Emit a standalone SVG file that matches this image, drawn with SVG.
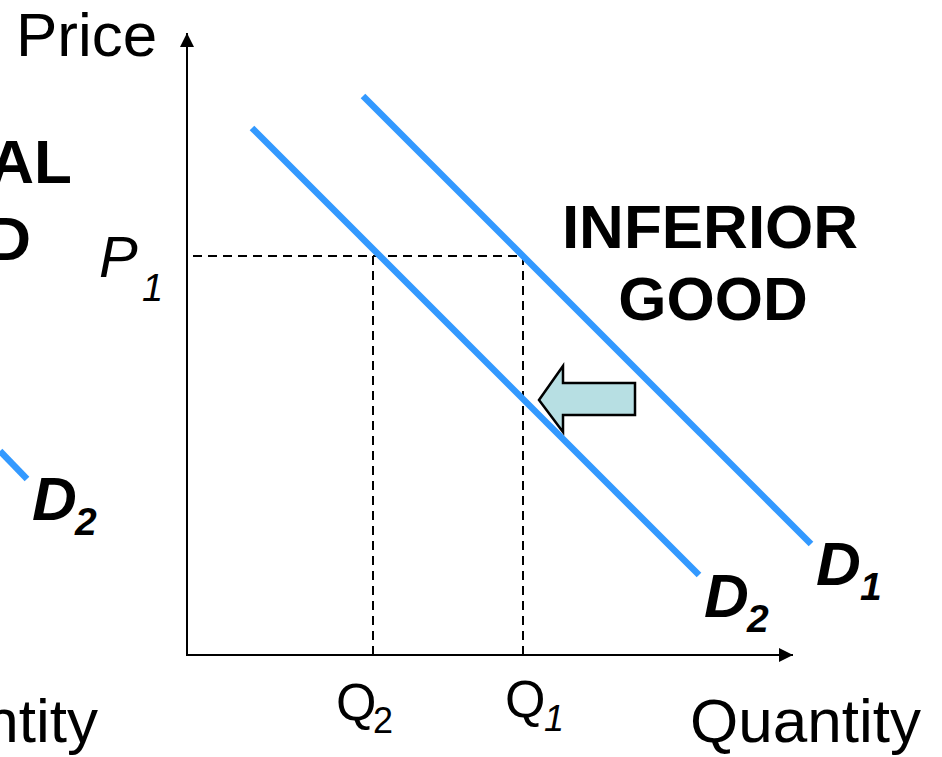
<svg xmlns="http://www.w3.org/2000/svg" width="942" height="757" viewBox="0 0 942 757">
<style>
text{font-family:"Liberation Sans",Arial,sans-serif;fill:#000}
.big{font-size:62px}
.b{font-weight:bold}
.i{font-style:italic}
.demand{stroke:#3399FF;stroke-width:6.5;fill:none}
.axis{stroke:#000;stroke-width:2;fill:none}
.dash{stroke:#000;stroke-width:2;stroke-dasharray:9 6;fill:none}
</style>
<defs>
<marker id="ah" viewBox="0 0 14 14" refX="14" refY="7" markerWidth="14" markerHeight="14" markerUnits="userSpaceOnUse" orient="auto">
<path d="M0,0 L14,7 L0,14 Z" fill="#000"/>
</marker>
</defs>
<rect width="942" height="757" fill="#fff"/>
<g id="connectors">
<line class="axis" x1="187" y1="656" x2="187" y2="33" marker-end="url(#ah)"/>
<line class="axis" x1="186" y1="655" x2="793" y2="655" marker-end="url(#ah)"/>
<path class="dash" d="M193,256 H523 V655"/>
<line class="dash" x1="373" y1="256" x2="373" y2="655"/>
<line class="demand" x1="0" y1="451" x2="27" y2="479"/>
<line class="demand" x1="252" y1="128" x2="699" y2="575"/>
<line class="demand" x1="363" y1="96" x2="811" y2="544"/>
<polygon points="539,400 563,366 563,383 635,383 635,415 563,415 563,432" fill="#b7dfe3" stroke="#000" stroke-width="2.5"/>
</g>
<g id="price-label"><text class="big" x="16" y="56">Price</text></g>
<g id="normal-good"><text class="big b" x="72" y="183" text-anchor="end">AL</text><text class="big b" x="31" y="260" text-anchor="end">D</text></g>
<g id="inferior-good"><text class="big b" x="710" y="248" text-anchor="middle">INFERIOR</text><text class="big b" x="713" y="320" text-anchor="middle">GOOD</text></g>
<g id="p1"><text class="i" x="99" y="277" font-size="58">P</text><text class="i" x="142" y="301" font-size="38">1</text></g>
<g id="q2"><text x="336" y="720" font-size="52">Q</text><text x="373" y="733" font-size="36">2</text></g>
<g id="q1"><text x="505" y="717" font-size="52">Q</text><text class="i" x="544" y="731" font-size="36">1</text></g>
<g id="d2-left"><text class="big b i" x="32" y="520">D</text><text class="b i" x="75" y="535" font-size="39">2</text></g>
<g id="d2-right"><text class="big b i" x="704" y="617">D</text><text class="b i" x="747" y="632" font-size="39">2</text></g>
<g id="d1"><text class="big b i" x="816" y="585">D</text><text class="b i" x="860" y="600" font-size="39">1</text></g>
<g id="quantity-left"><text class="big" x="98" y="742" text-anchor="end">ntity</text></g>
<g id="quantity-right"><text class="big" x="690" y="742">Quantity</text></g>
</svg>
